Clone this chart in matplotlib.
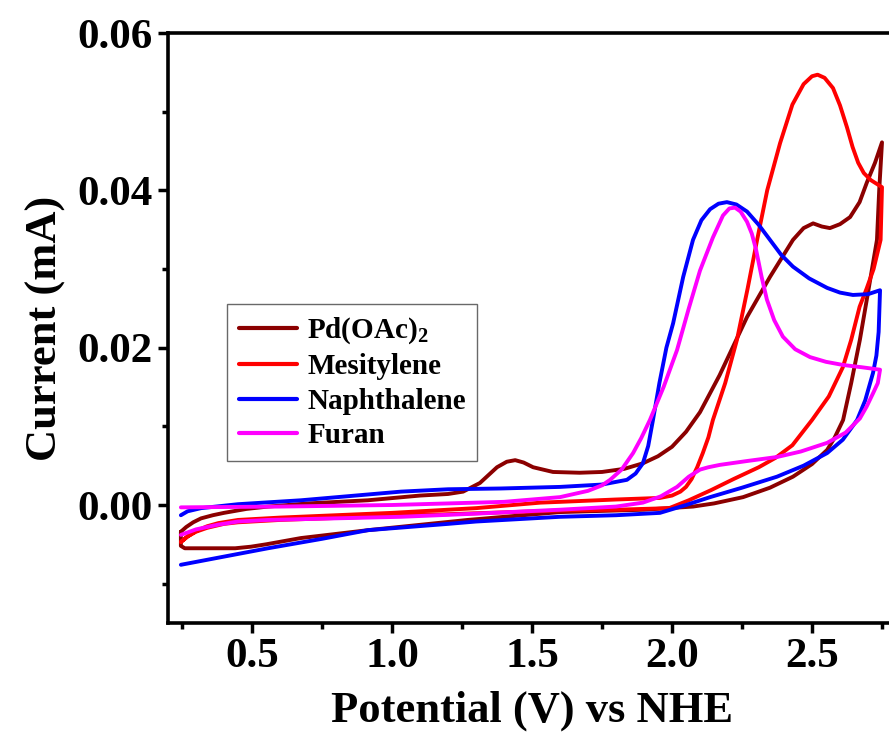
import matplotlib

matplotlib.use("Agg")
import matplotlib.pyplot as plt
from matplotlib.ticker import MultipleLocator, FormatStrFormatter

# Cyclic voltammograms (forward sweep, then return sweep)
pd_x = [0.246, 0.265, 0.29, 0.318, 0.36, 0.40, 0.48, 0.557, 0.70, 0.914, 1.10, 1.20, 1.254, 1.314,
        1.375, 1.41, 1.44, 1.47, 1.504, 1.575, 1.67, 1.75, 1.83, 1.896, 1.95, 2.00, 2.05, 2.10, 2.17,
        2.268, 2.35, 2.432, 2.47, 2.504, 2.535, 2.564, 2.60, 2.636, 2.67, 2.696, 2.725, 2.75,
        2.74, 2.732, 2.70, 2.671, 2.64, 2.611, 2.58, 2.554, 2.50, 2.432, 2.35, 2.254, 2.15, 2.075,
        1.90, 1.60, 1.27, 0.914, 0.675, 0.55, 0.496, 0.44, 0.35, 0.26, 0.246, 0.246]
pd_y = [-0.0034, -0.0028, -0.0022, -0.0017, -0.0013, -0.0010, -0.0005, -0.0002, 0.0002, 0.0006,
        0.0012, 0.0014, 0.0017, 0.0028, 0.0048, 0.0055, 0.0057, 0.0054, 0.0048, 0.0042, 0.0041, 0.0042,
        0.0046, 0.0053, 0.0062, 0.0074, 0.0093, 0.0118, 0.0165, 0.0239, 0.0290, 0.0337, 0.0352, 0.0358,
        0.0354, 0.0352, 0.0357, 0.0366, 0.0385, 0.0410, 0.0435, 0.0461,
        0.0400, 0.0337, 0.0270, 0.0210, 0.0155, 0.0108, 0.0085, 0.0070, 0.0052, 0.0036, 0.0022, 0.0010,
        0.0002, -0.0002, -0.0006, -0.0009, -0.0019, -0.0032, -0.0042, -0.0050, -0.0053, -0.0055,
        -0.0055, -0.0055, -0.0052, -0.0034]

mes_x = [0.246, 0.27, 0.30, 0.34, 0.38, 0.45, 0.60, 1.00, 1.30, 1.53, 1.60, 1.80, 1.957, 2.00, 2.03,
         2.05, 2.07, 2.09, 2.11, 2.13, 2.146, 2.19, 2.232, 2.27, 2.304, 2.34, 2.386, 2.43, 2.47, 2.50,
         2.52, 2.545, 2.575, 2.60, 2.625, 2.645, 2.665, 2.685, 2.71, 2.75,
         2.745, 2.72, 2.695, 2.67, 2.64, 2.61, 2.56, 2.50, 2.43, 2.37, 2.31, 2.22, 2.14, 2.06, 1.99,
         1.80, 1.60, 1.00, 0.60, 0.45, 0.40, 0.34, 0.30, 0.27, 0.246]
mes_y = [-0.0047, -0.0040, -0.0033, -0.0027, -0.0023, -0.0019, -0.0016, -0.0010, -0.0004, 0.0003,
         0.0004, 0.0007, 0.0009, 0.0012, 0.0017, 0.0023, 0.0033, 0.0048, 0.0066, 0.0086, 0.0108, 0.0155,
         0.0210, 0.0275, 0.0337, 0.0400, 0.0460, 0.0509, 0.0535, 0.0545, 0.0547, 0.0543, 0.0530, 0.0508,
         0.0480, 0.0455, 0.0435, 0.0422, 0.0413, 0.0404,
         0.0337, 0.0300, 0.0275, 0.0252, 0.0210, 0.0175, 0.0138, 0.0108, 0.0076, 0.0060, 0.0048, 0.0033,
         0.0019, 0.0006, -0.0004, -0.0006, -0.0007, -0.0014, -0.0019, -0.0022, -0.0024, -0.0029,
         -0.0034, -0.0040, -0.0047]

nap_x = [0.246, 0.27, 0.318, 0.45, 0.675, 1.032, 1.20, 1.389, 1.60, 1.75, 1.839, 1.87, 1.896, 1.915,
         1.932, 1.955, 1.98, 2.004, 2.04, 2.075, 2.105, 2.136, 2.166, 2.196, 2.23, 2.268, 2.31, 2.35,
         2.39, 2.432, 2.49, 2.554, 2.60, 2.646, 2.70, 2.743,
         2.738, 2.73, 2.718, 2.69, 2.661, 2.61, 2.554, 2.47, 2.375, 2.25, 2.136, 2.05, 1.957, 1.80,
         1.60, 1.30, 1.20, 0.914, 0.75, 0.557, 0.246]
nap_y = [-0.0013, -0.0008, -0.0004, 0.0001, 0.0006, 0.0017, 0.0020, 0.0021, 0.0023, 0.0026, 0.0032,
         0.0040, 0.0053, 0.0075, 0.0108, 0.0155, 0.0200, 0.0231, 0.0290, 0.0337, 0.0362, 0.0376, 0.0383,
         0.0385, 0.0382, 0.0373, 0.0356, 0.0337, 0.0318, 0.0303, 0.0288, 0.0276, 0.0270, 0.0267, 0.0268,
         0.0273,
         0.0220, 0.0190, 0.0168, 0.0133, 0.0108, 0.0083, 0.0066, 0.0050, 0.0036, 0.0022, 0.0010, 0.0000,
         -0.0010, -0.0013, -0.0015, -0.0021, -0.0024, -0.0032, -0.0043, -0.0055, -0.0076]

fur_x = [0.246, 0.60, 1.00, 1.40, 1.60, 1.70, 1.75, 1.779, 1.82, 1.861, 1.89, 1.921, 1.97, 2.018,
         2.06, 2.10, 2.146, 2.182, 2.205, 2.225, 2.245, 2.268, 2.285, 2.30, 2.32, 2.339, 2.365, 2.396,
         2.44, 2.493, 2.55, 2.611, 2.68, 2.743,
         2.735, 2.718, 2.695, 2.671, 2.62, 2.554, 2.46, 2.375, 2.27, 2.171, 2.13, 2.10, 2.06, 2.018,
         1.96, 1.896, 1.80, 1.60, 1.30, 1.032, 0.557, 0.45, 0.379, 0.30, 0.246]
fur_y = [-0.0003, -0.0002, 0.0000, 0.0004, 0.0010, 0.0018, 0.0025, 0.0032, 0.0045, 0.0066, 0.0085,
         0.0108, 0.0150, 0.0197, 0.0250, 0.0298, 0.0340, 0.0368, 0.0377, 0.0378, 0.0373, 0.0360, 0.0345,
         0.0325, 0.0290, 0.0261, 0.0235, 0.0214, 0.0198, 0.0188, 0.0182, 0.0178, 0.0175, 0.0172,
         0.0155, 0.0142, 0.0125, 0.0110, 0.0092, 0.0079, 0.0068, 0.0061, 0.0056, 0.0051, 0.0048, 0.0045,
         0.0036, 0.0023, 0.0011, 0.0003, -0.0002, -0.0006, -0.0011, -0.0015, -0.0019, -0.0021, -0.0025,
         -0.0031, -0.0038]

labels = [r"Pd(OAc)$_2$", "Mesitylene", "Naphthalene", "Furan"]
colors = ["#8B0000", "#FF0000", "#0000FF", "#FF00FF"]

plt.rcParams.update(
    {
        "font.family": "serif",
        "font.serif": ["Liberation Serif", "DejaVu Serif"],
        "font.weight": "bold",
        "mathtext.fontset": "custom",
        "mathtext.rm": "Liberation Serif:bold",
        "mathtext.it": "Liberation Serif:bold",
        "mathtext.bf": "Liberation Serif:bold",
    }
)

fig = plt.figure(figsize=(8.89, 7.35), dpi=100)
# right spine falls just outside the picture, as in the reference crop
ax = fig.add_axes([168 / 889, 112 / 735, 728 / 889, 590 / 735])

series = [(pd_x, pd_y), (mes_x, mes_y), (nap_x, nap_y), (fur_x, fur_y)]
for (xs, ys), label, color in zip(series, labels, colors):
    ax.plot(xs, ys, color=color, linewidth=2.8, label=label,
            solid_joinstyle="round", solid_capstyle="round")

ax.set_xlim(0.2, 2.8)
ax.set_ylim(-0.015, 0.06)
ax.xaxis.set_major_locator(MultipleLocator(0.5))
ax.xaxis.set_minor_locator(MultipleLocator(0.25))
ax.yaxis.set_major_locator(MultipleLocator(0.02))
ax.yaxis.set_minor_locator(MultipleLocator(0.01))
ax.xaxis.set_major_formatter(FormatStrFormatter("%.1f"))
ax.yaxis.set_major_formatter(FormatStrFormatter("%.2f"))
ax.set_xticks([0.5, 1.0, 1.5, 2.0, 2.5])

ax.tick_params(which="major", direction="out", length=7, width=2.5, labelsize=31, pad=4)
ax.tick_params(which="minor", direction="out", length=4.5, width=2.5)
ax.tick_params(top=False, right=False)
for spine in ax.spines.values():
    spine.set_linewidth(2.6)

ax.set_xlabel("Potential (V) vs NHE", fontsize=32, fontweight="bold", labelpad=10)
ax.set_ylabel("Current (mA)", fontsize=32, fontweight="bold", labelpad=8)

leg = ax.legend(
    loc="upper left",
    bbox_to_anchor=(0.081, 0.541),
    borderaxespad=0,
    fontsize=21,
    frameon=True,
    fancybox=False,
    edgecolor="#444444",
    handlelength=2.0,
    handletextpad=0.35,
    labelspacing=0.25,
    borderpad=0.4,
)
leg.get_frame().set_linewidth(1.0)
for line in leg.get_lines():
    line.set_linewidth(3.0)

fig.savefig("out.png", dpi=100, facecolor="white")
